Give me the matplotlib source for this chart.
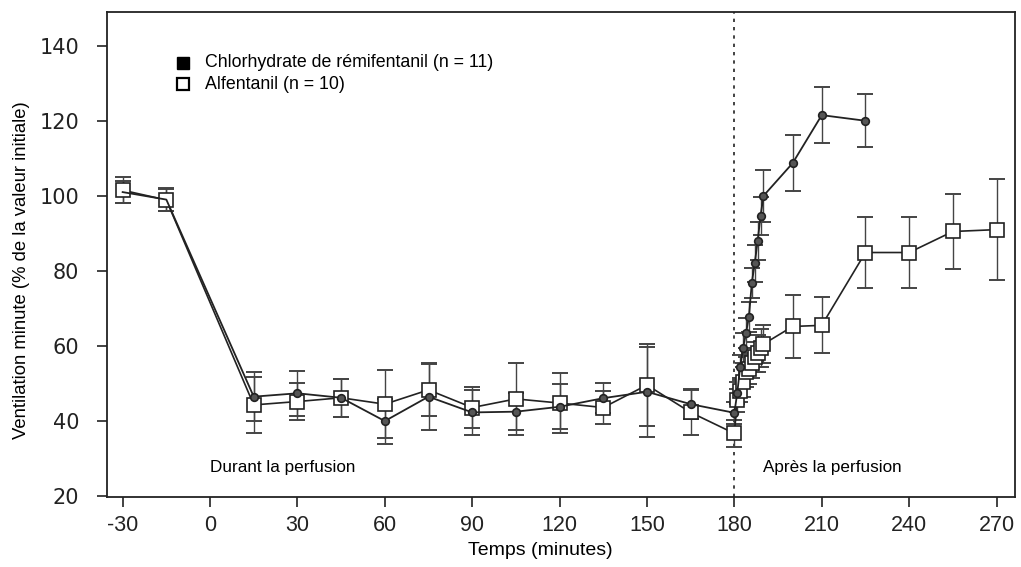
import numpy as np
import matplotlib
matplotlib.use('Agg')
import matplotlib.pyplot as plt

plt.rcParams['font.family'] = ['Liberation Sans', 'DejaVu Sans']

# temps (minutes)
t_remi = [-30, -15, 15, 30, 45, 60, 75, 90, 105, 120, 135, 150, 165, 180,
          181, 182, 183, 184, 185, 186, 187, 188, 189, 190, 200, 210, 225]
remi = [101, 99, 46.5, 47.4, 46.2, 40, 46.5, 42.3, 42.5, 43.8, 46.1, 47.8, 44.5, 42.2,
        47.5, 54.5, 59.5, 63.4, 67.8, 76.9, 82, 88, 94.7, 100, 108.7, 121.5, 120]
remi_err = [3, 3, 6.5, 6, 5, 6, 9, 6, 5, 6, 4, 12, 4, 3,
            3, 3, 4, 4, 4, 4, 5, 5, 5, 7, 7.5, 7.5, 7]

t_alf = [-30, -15, 15, 30, 45, 60, 75, 90, 105, 120, 135, 150, 165, 180,
         181, 182, 183, 184, 185, 186, 187, 188, 189, 190, 200, 210, 225, 240, 255, 270]
alf = [101.5, 98.9, 44.3, 45.2, 46.2, 44.5, 48.3, 43.6, 45.9, 44.8, 43.6, 49.6, 42.3, 36.7,
       45.5, 48, 50.5, 53, 54, 55.5, 57, 58, 59.5, 60.5, 65.2, 65.5, 84.9, 84.9, 90.5, 91]
alf_err = [3.5, 3, 7.5, 5, 5, 9, 7, 5.5, 9.5, 8, 4.5, 11, 6, 3.5,
           3, 3, 4, 4, 4, 4, 4, 5, 5, 5, 8.5, 7.5, 9.5, 9.5, 10, 13.5]

xticks = [-30, 0, 30, 60, 90, 120, 150, 180, 210, 240, 270]
yticks = [20, 40, 60, 80, 100, 120, 140]

fig = plt.figure(figsize=(10.21, 5.67), dpi=100)
ax = fig.add_axes([0.105, 0.123, 0.889, 0.856])

ink = '#222222'

# alfentanil (carres ouverts)
ax.errorbar(t_alf, alf, yerr=alf_err, fmt='none', ecolor='#444444', elinewidth=1.0,
            capsize=6, capthick=1.4, zorder=2)
ax.plot(t_alf, alf, color=ink, lw=1.2, zorder=3)
ax.plot(t_alf, alf, ls='none', marker='s', ms=10, mfc='white', mec=ink, mew=1.2, zorder=4)

# remifentanil (points pleins)
ax.errorbar(t_remi, remi, yerr=remi_err, fmt='none', ecolor='#444444', elinewidth=1.0,
            capsize=6, capthick=1.4, zorder=2)
ax.plot(t_remi, remi, color=ink, lw=1.3, zorder=5)
ax.plot(t_remi[2:], remi[2:], ls='none', marker='o', ms=5.5, mfc='#555555', mec=ink,
        mew=1.2, zorder=6)

ax.axvline(180, color=ink, lw=1.2, ls=(0, (2, 3)), zorder=1)

ax.set_xlim(-35.3, 276.3)
ax.set_ylim(19.7, 149)
ax.set_xticks(xticks)
ax.set_yticks(yticks)
ax.set_xticklabels([str(v) for v in xticks], fontsize=15.5)
ax.set_yticklabels([str(v) for v in yticks], family='DejaVu Sans', fontsize=15)
ax.tick_params(axis='y', direction='out', length=7, width=1.2, pad=13, colors=ink)
ax.tick_params(axis='x', direction='out', length=7, width=1.2, pad=6, colors=ink)
for s in ax.spines.values():
    s.set_color(ink)
    s.set_linewidth(1.3)

ax.set_xlabel('Temps (minutes)', fontsize=14)
ax.xaxis.set_label_coords(0.477, -0.093)
ax.set_ylabel('Ventilation minute (% de la valeur initiale)', fontsize=13.3)
ax.yaxis.set_label_coords(-0.085, 0.468)

ax.text(0, 27.5, 'Durant la perfusion', fontsize=12.3, ha='left', va='center')
ax.text(190, 27.5, 'Après la perfusion', fontsize=12.3, ha='left', va='center')

# legende
ax.plot([-9.3], [135.5], marker='s', ms=8, color='black', ls='none')
ax.plot([-9.3], [129.7], marker='s', ms=8, mfc='white', mec='black', mew=1.6, ls='none')
ax.text(-1.7, 135.5, 'Chlorhydrate de rémifentanil (n = 11)', fontsize=12.8, va='center')
ax.text(-1.7, 129.7, 'Alfentanil (n = 10)', fontsize=12.8, va='center')

fig.savefig('out.png', dpi=100)
